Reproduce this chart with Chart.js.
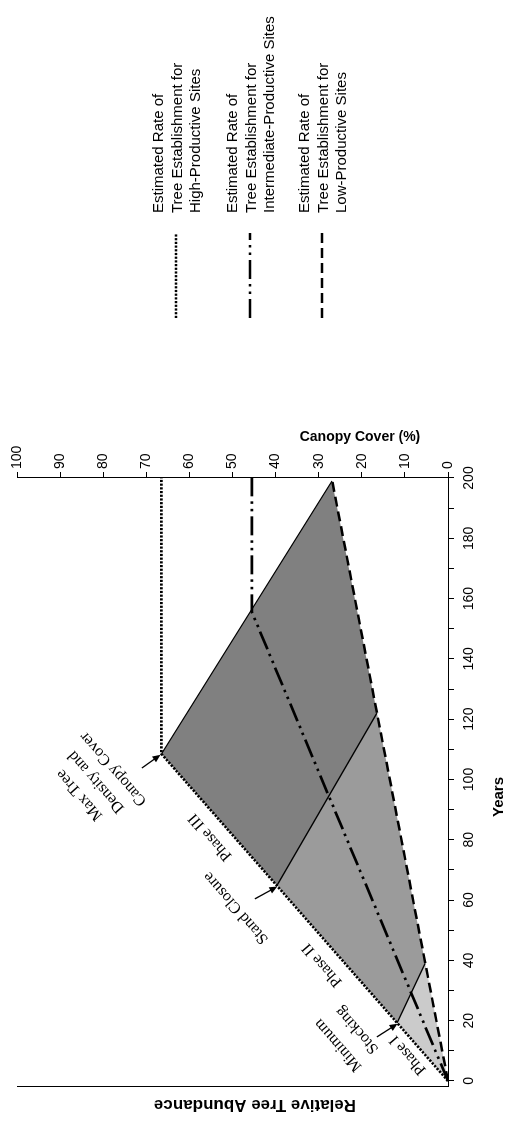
<!DOCTYPE html>
<html>
<head>
<meta charset="utf-8">
<script src="https://cdn.jsdelivr.net/npm/chart.js@4.4.0/dist/chart.umd.min.js"></script>
<style>
  html, body { margin: 0; padding: 0; background: #fff; }
  #page { position: relative; width: 508px; height: 1122px; overflow: hidden; }
  /* the figure is drawn the normal way round and then turned a quarter to the left */
  #turn { position: absolute; left: 0; top: 0; width: 1122px; height: 508px;
          transform-origin: 0 0; transform: translate(0, 1122px) rotate(-90deg); }
</style>
</head>
<body>
<div id="page"><div id="turn"><canvas id="myChart" width="1122" height="508"></canvas></div></div>
<script>
// ticks
const yearTicks = [0, 10, 20, 30, 40, 50, 60, 70, 80, 90, 100, 110, 120, 130, 140, 150, 160, 170, 180, 190, 200];
const canopyTicks = [0, 10, 20, 30, 40, 50, 60, 70, 80, 90, 100];

// rate of tree establishment (years, canopy cover %)
const highYears = [0, 108.5, 200];
const highCover = [0, 66.5, 66.5];
const midYears = [0, 155.5, 200];
const midCover = [0, 45.5, 45.5];
const lowYears = [0, 200];
const lowCover = [0, 27];

// shaded phases
const phase1Years = [0, 19.3, 39, 0];
const phase1Cover = [0, 11.8, 5.3, 0];
const phase2Years = [19.3, 64.8, 122, 39, 19.3];
const phase2Cover = [11.8, 39.7, 16.5, 5.3, 11.8];
const phase3Years = [64.8, 108.5, 199, 122, 64.8];
const phase3Cover = [39.7, 66.5, 26.9, 16.5, 39.7];

// solid lines between the phases
const edge1Years = [19.3, 39];
const edge1Cover = [11.8, 5.3];
const edge2Years = [64.8, 122];
const edge2Cover = [39.7, 16.5];
const edge3Years = [108.5, 199];
const edge3Cover = [66.5, 26.9];

// notes written along the high-productive line
const noteText = ['Phase I', 'Minimum', 'Stocking', 'Phase II', 'Stand Closure', 'Phase III', 'Max Tree', 'Density and', 'Canopy Cover'];
const noteYears = [8.6, 11.9, 16.9, 38.5, 57.4, 80.9, 94.9, 99.2, 103.5];
const noteCover = [9.3, 25.5, 21.1, 29.2, 49.2, 55.2, 85.5, 81.6, 77.7];

// arrows: from (year, cover) to (year, cover)
const arrowFromYears = [14.6, 60.4, 103.8];
const arrowFromCover = [16.5, 44.8, 71.0];
const arrowToYears = [19.0, 64.5, 108.2];
const arrowToCover = [11.7, 39.6, 66.7];

const legendText = [
    ['Estimated Rate of', 'Tree Establishment for', 'High-Productive Sites'],
    ['Estimated Rate of', 'Tree Establishment for', 'Intermediate-Productive Sites'],
    ['Estimated Rate of', 'Tree Establishment for', 'Low-Productive Sites']
];

let pts = (xs, ys) => xs.map((x, i) => ({ x: x, y: ys[i] }));

const sans = "'Liberation Sans', Arial, sans-serif";
const serif = "'Liberation Serif', 'Times New Roman', serif";

const highStyle = { borderColor: '#000', borderWidth: 2.6, borderDash: [2.2, 1.5] };
const midStyle = { borderColor: '#000', borderWidth: 2.7, borderDash: [19, 5, 2.5, 5, 2.5, 5] };
const lowStyle = { borderColor: '#000', borderWidth: 2.5, borderDash: [10, 5] };

let curve = (data, style) => Object.assign({
    data: data, fill: false, pointRadius: 0, tension: 0, borderCapStyle: 'butt'
}, style);

let phase = (data, color) => ({
    data: data, fill: 'shape', backgroundColor: color, borderWidth: 0,
    borderColor: 'rgba(0,0,0,0)', pointRadius: 0, tension: 0
});

let edge = (data) => ({
    data: data, fill: false, borderColor: '#000', borderWidth: 1.2, pointRadius: 0, tension: 0
});

// first dataset is drawn on top
const datasets = [
    curve(pts(highYears, highCover), highStyle),
    curve(pts(midYears, midCover), midStyle),
    curve(pts(lowYears, lowCover), lowStyle),
    edge(pts(edge1Years, edge1Cover)),
    edge(pts(edge2Years, edge2Cover)),
    edge(pts(edge3Years, edge3Cover)),
    phase(pts(phase1Years, phase1Cover), '#cbcbcb'),
    phase(pts(phase2Years, phase2Cover), '#9b9b9b'),
    phase(pts(phase3Years, phase3Cover), '#808080')
];

const extras = {
    id: 'extras',
    afterDraw(chart) {
        const ctx = chart.ctx;
        const sx = chart.scales.x, sy = chart.scales.y;
        ctx.save();
        ctx.fillStyle = '#000';
        ctx.strokeStyle = '#000';
        ctx.textAlign = 'center';
        ctx.textBaseline = 'middle';

        // axis titles
        ctx.font = 'bold 15px ' + sans;
        ctx.fillText('Years', 325, 499);
        ctx.save();
        ctx.translate(685, 360);
        ctx.rotate(Math.PI / 2);
        ctx.font = 'bold 14px ' + sans;
        ctx.fillText('Canopy Cover (%)', 0, 0);
        ctx.restore();
        ctx.save();
        ctx.translate(17, 255);
        ctx.rotate(-Math.PI / 2);
        ctx.font = 'bold 17px ' + sans;
        ctx.fillText('Relative Tree Abundance', 0, 0);
        ctx.restore();

        // notes, turned like the high-productive line
        const ang = Math.atan2(sy.getPixelForValue(highCover[1]) - sy.getPixelForValue(0),
                               sx.getPixelForValue(highYears[1]) - sx.getPixelForValue(0));
        ctx.font = '16px ' + serif;
        noteText.forEach((t, i) => {
            ctx.save();
            ctx.translate(sx.getPixelForValue(noteYears[i]), sy.getPixelForValue(noteCover[i]));
            ctx.rotate(ang);
            ctx.fillText(t, 0, 0);
            ctx.restore();
        });

        // arrows
        ctx.lineWidth = 1.3;
        arrowFromYears.forEach((v, i) => {
            const x0 = sx.getPixelForValue(v), y0 = sy.getPixelForValue(arrowFromCover[i]);
            const x1 = sx.getPixelForValue(arrowToYears[i]), y1 = sy.getPixelForValue(arrowToCover[i]);
            const a = Math.atan2(y1 - y0, x1 - x0);
            ctx.beginPath();
            ctx.moveTo(x0, y0);
            ctx.lineTo(x1 - 5 * Math.cos(a), y1 - 5 * Math.sin(a));
            ctx.stroke();
            ctx.beginPath();
            ctx.moveTo(x1, y1);
            ctx.lineTo(x1 - 8 * Math.cos(a) + 3.5 * Math.sin(a), y1 - 8 * Math.sin(a) - 3.5 * Math.cos(a));
            ctx.lineTo(x1 - 8 * Math.cos(a) - 3.5 * Math.sin(a), y1 - 8 * Math.sin(a) + 3.5 * Math.cos(a));
            ctx.closePath();
            ctx.fill();
        });

        // legend
        const styles = [highStyle, midStyle, lowStyle];
        const rowY = [176, 250, 322];
        ctx.textAlign = 'left';
        ctx.font = '15px ' + sans;
        styles.forEach((st, i) => {
            ctx.save();
            ctx.lineWidth = st.borderWidth;
            ctx.setLineDash(st.borderDash);
            ctx.lineCap = 'butt';
            ctx.beginPath();
            ctx.moveTo(804, rowY[i]);
            ctx.lineTo(889, rowY[i]);
            ctx.stroke();
            ctx.restore();
            legendText[i].forEach((t, k) => {
                ctx.fillText(t, 909, rowY[i] - 17 + k * 18.5);
            });
        });
        ctx.restore();
    }
};

const context = document.getElementById('myChart').getContext('2d');
const myChart = new Chart(context, {
    type: 'line',
    data: { datasets: datasets },
    options: {
        responsive: false,
        animation: false,
        events: [],
        layout: { padding: { top: 17, left: 0, right: 0, bottom: 0 } },
        plugins: { legend: { display: false }, tooltip: { enabled: false } },
        scales: {
            x: {
                type: 'linear', position: 'bottom', min: -2, max: 200,
                afterBuildTicks: s => { s.ticks = yearTicks.map(v => ({ value: v })); },
                afterFit: s => { s.height = 60; },
                grid: { drawOnChartArea: false, drawTicks: true, tickLength: 6, color: '#000', lineWidth: 1 },
                border: { display: true, color: '#000', width: 1 },
                ticks: {
                    color: '#000', font: { family: sans, size: 14 }, padding: 7,
                    maxRotation: 0, minRotation: 0, autoSkip: false,
                    callback: v => (v % 20 === 0 ? String(v) : '')
                }
            },
            y: {
                type: 'linear', position: 'right', min: 0, max: 100,
                afterBuildTicks: s => { s.ticks = canopyTicks.map(v => ({ value: v })); },
                afterFit: s => { s.width = 478; },
                grid: { drawOnChartArea: false, drawTicks: true, tickLength: 6, color: '#000', lineWidth: 1 },
                border: { display: true, color: '#000', width: 1 },
                ticks: { color: '#000', font: { family: sans, size: 14 }, padding: 3, autoSkip: false }
            },
            yL: {
                type: 'linear', position: 'left', min: 0, max: 100,
                afterFit: s => { s.width = 35; },
                ticks: { display: false },
                grid: { display: false },
                border: { display: true, color: '#000', width: 1 }
            }
        }
    },
    plugins: [extras]
});
</script>
</body>
</html>
